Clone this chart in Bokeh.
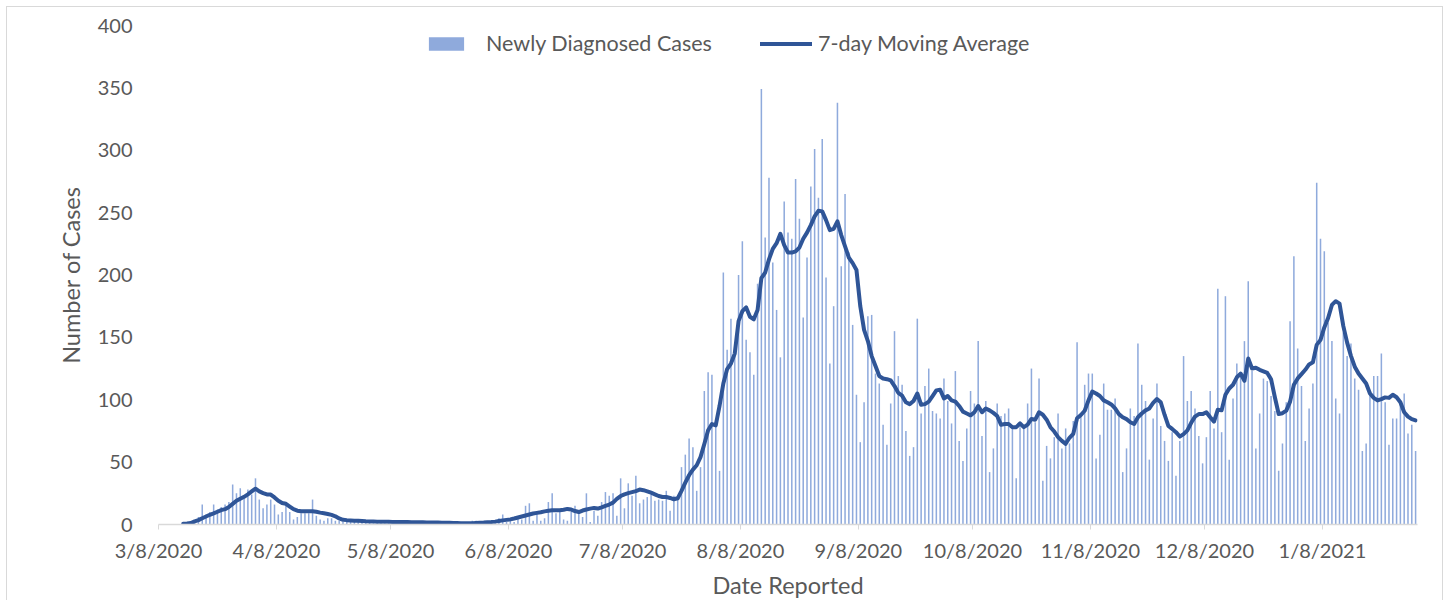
import pandas as pd
from bokeh.plotting import figure
from bokeh.models import Range1d, FixedTicker, Legend, LegendItem, ColumnDataSource
from bokeh.embed import file_html
from bokeh.resources import INLINE

# ---------------- data ----------------
start_date = "2020-03-14"

cases = [
    1, 1, 2, 3, 6, 16, 8, 10, 16, 12,
    14, 16, 18, 32, 25, 29, 22, 28, 24, 37,
    20, 13, 16, 20, 16, 8, 10, 18, 10, 4,
    6, 9, 9, 9, 20, 7, 4, 3, 5, 5,
    3, 3, 2, 3, 2, 2, 3, 2, 2, 3,
    1, 2, 2, 1, 3, 2, 2, 1, 2, 1,
    2, 1, 1, 2, 1, 1, 2, 1, 1, 2,
    1, 1, 1, 0, 1, 1, 3, 3, 1, 1,
    2, 1, 2, 5, 8, 2, 3, 2, 5, 4,
    15, 17, 3, 9, 3, 5, 18, 25, 9, 10,
    4, 3, 10, 15, 9, 6, 25, 2, 11, 7,
    18, 26, 23, 25, 7, 37, 13, 33, 23, 39,
    17, 20, 22, 24, 19, 20, 19, 27, 11, 23,
    20, 46, 56, 69, 62, 27, 46, 107, 122, 120,
    83, 43, 202, 140, 165, 146, 200, 227, 148, 138,
    120, 193, 349, 230, 278, 210, 172, 134, 259, 234,
    229, 277, 245, 166, 214, 271, 301, 262, 309, 198,
    129, 175, 338, 207, 265, 218, 160, 104, 66, 98,
    167, 168, 121, 113, 80, 64, 97, 155, 119, 112,
    75, 55, 62, 165, 89, 111, 125, 91, 89, 85,
    117, 99, 81, 123, 67, 51, 77, 107, 97, 147,
    71, 99, 42, 61, 97, 87, 89, 93, 77, 37,
    78, 78, 97, 125, 82, 117, 35, 63, 53, 70,
    89, 61, 77, 65, 83, 146, 89, 112, 121, 121,
    53, 72, 113, 92, 92, 101, 89, 42, 61, 93,
    87, 145, 112, 99, 52, 85, 113, 79, 67, 51,
    74, 39, 67, 135, 99, 107, 93, 71, 49, 70,
    107, 77, 189, 74, 183, 52, 101, 129, 122, 147,
    195, 123, 61, 89, 117, 115, 103, 91, 43, 65,
    98, 163, 215, 141, 111, 67, 93, 113, 274, 229,
    219, 162, 147, 101, 89, 154, 135, 145, 117, 108,
    59, 65, 105, 119, 119, 137, 98, 64, 85, 85,
    96, 105, 73, 80, 59,
]

moving_avg = [
    0.6, 0.8, 1.2, 2.5, 3.5, 5, 6.4, 7.8, 8.9, 10.2,
    11.5, 12.3, 14, 16.5, 19, 20.7, 22.2, 24.2, 26.5, 28.7,
    26.6, 25.2, 24.1, 24, 21.7, 19, 17.2, 16.6, 14.4, 12.3,
    11.1, 10.6, 10.6, 10.6, 10.6, 10.2, 9.5, 9, 8.4, 7.7,
    6.6, 4.9, 3.8, 3.5, 3.3, 3.1, 3.0, 2.8, 2.6, 2.5,
    2.4, 2.3, 2.3, 2.2, 2.2, 2.1, 2.1, 2.1, 2.0, 2.0,
    1.9, 1.9, 1.8, 1.8, 1.7, 1.7, 1.6, 1.6, 1.5, 1.5,
    1.4, 1.3, 1.2, 1.1, 1.0, 1.0, 1.1, 1.3, 1.5, 1.6,
    1.8, 2.0, 2.3, 2.8, 3.3, 3.7, 4.1, 4.8, 5.6, 6.4,
    7.2, 8.0, 8.8, 9.3, 9.8, 10.5, 11, 11.4, 11.4, 11.4,
    11.8, 12.5, 12.0, 10.8, 10.0, 11.2, 12.0, 12.7, 13.3, 12.8,
    13.8, 15.0, 16, 17.5, 20.5, 22.8, 24.2, 25.2, 26, 26.8,
    28, 27.5, 26.6, 25.5, 24.2, 22.8, 22, 22, 21.3, 20.2,
    21, 27, 33.5, 39.5, 44, 47.5, 54, 64.5, 75.5, 80.5,
    79.5, 95, 113, 124.6, 129, 137, 163, 171, 174, 166.5,
    164.5, 172, 197.5, 202, 212.5, 221, 225.5, 233, 224, 218,
    218, 219, 222, 229, 234, 240, 247, 251.5, 251, 244,
    236, 237, 243, 232, 223, 214, 209.5, 204, 175, 156,
    147, 135, 127, 119, 117, 116.5, 115.5, 111, 105.5, 103.3,
    98, 96.5, 99, 105, 96, 96.5, 98.5, 103, 107.5, 108,
    101, 103, 99.5, 98.5, 95, 90.5, 89, 87.5, 90, 95,
    90, 93, 91.5, 89.5, 87, 80, 80.5, 80.5, 78, 78,
    81, 78, 80, 84.6, 84, 90, 88, 84, 78, 74.5,
    70, 67, 64.7, 69.5, 72.7, 85.2, 87.8, 91.2, 99.5, 106.5,
    105, 103, 99.5, 98, 96.2, 93, 88.5, 86, 84.5, 82,
    80.6, 86, 89, 91.5, 93, 97.5, 100.6, 98, 88, 79,
    76.6, 74, 70.5, 72.5, 75.5, 81.5, 86.5, 88.5, 88.5, 90,
    86, 82.5, 92, 91.5, 104, 109, 112, 118, 121, 115.2,
    133, 125, 125.7, 124, 122.8, 121.5, 116.5, 102, 88.6, 89.2,
    91.3, 98.5, 112, 117.1, 120.5, 124, 128.3, 130, 144, 148,
    158, 165.5, 176, 179, 177, 159, 145.8, 135.2, 126.5, 121,
    117, 113, 105, 101.5, 99.5, 100.5, 101.9, 101.5, 104, 102,
    98, 90, 86.5, 84.5, 83.5,
]

tick_labels = ["3/8/2020", "4/8/2020", "5/8/2020", "6/8/2020", "7/8/2020",
               "8/8/2020", "9/8/2020", "10/8/2020", "11/8/2020", "12/8/2020",
               "1/8/2021"]
y_ticks = [0, 50, 100, 150, 200, 250, 300, 350, 400]

# ---------------- positions via dates ----------------
dates = pd.date_range(start_date, periods=len(cases), freq="D")
tick_dates = pd.to_datetime(tick_labels, format="%m/%d/%Y")
origin = tick_dates[0]
day = [float(d) + 0.5 for d in (dates - origin).days]   # columns centred in their day slot
tick_pos = [int(d) for d in (tick_dates - origin).days]

src = ColumnDataSource(dict(day=day, cases=cases, ma=moving_avg))

FONT = "Lato"
GREY = "#595959"

p = figure(width=1437, height=594, output_backend="svg", toolbar_location=None,
           x_range=Range1d(0, day[-1] + 0.5), y_range=Range1d(y_ticks[0], y_ticks[-1]),
           min_border_left=151, min_border_right=27, min_border_top=18, min_border_bottom=75)
p.styles = {"border-left": "1px solid #D9D9D9", "border-top": "1px solid #D9D9D9",
            "border-right": "1px solid #D9D9D9",
            "margin-left": "6px", "margin-top": "6px"}

bars = p.vbar(x="day", top="cases", bottom=0, width=0.4, source=src,
              fill_color="#8FAADC", line_color=None)
line = p.line(x="day", y="ma", source=src, line_color="#2F5597", line_width=4,
              line_join="round", line_cap="round")

p.xgrid.visible = False
p.ygrid.visible = False
p.outline_line_color = None
p.background_fill_color = "white"
p.border_fill_color = "white"

xa = p.xaxis[0]
xa.ticker = FixedTicker(ticks=tick_pos)
xa.major_label_overrides = {pos: lab for pos, lab in zip(tick_pos, tick_labels)}
xa.axis_line_color = "#D9D9D9"
xa.axis_line_width = 1.5
xa.major_tick_line_color = "#D9D9D9"
xa.major_tick_out = 5
xa.major_tick_in = 0
xa.minor_tick_line_color = None
xa.major_label_text_font = FONT
xa.major_label_text_font_size = "20px"
xa.major_label_text_color = GREY
xa.major_label_standoff = 8
xa.axis_label = "Date Reported"
xa.axis_label_text_font = FONT
xa.axis_label_text_font_size = "23.5px"
xa.axis_label_text_font_style = "normal"
xa.axis_label_text_color = GREY
xa.axis_label_standoff = 6

ya = p.yaxis[0]
ya.ticker = FixedTicker(ticks=y_ticks)
ya.axis_line_color = None
ya.major_tick_line_color = None
ya.minor_tick_line_color = None
ya.major_label_text_font = FONT
ya.major_label_text_font_size = "20px"
ya.major_label_text_color = GREY
ya.major_label_standoff = 20
ya.axis_label = "Number of Cases"
ya.axis_label_text_font = FONT
ya.axis_label_text_font_size = "23.5px"
ya.axis_label_text_font_style = "normal"
ya.axis_label_text_color = GREY
ya.axis_label_standoff = 10

common = dict(orientation="horizontal", padding=0, margin=0, spacing=0,
              border_line_color=None, background_fill_alpha=0,
              label_text_font=FONT, label_text_font_size="21.5px",
              label_text_color=GREY, label_height=26)
leg1 = Legend(items=[LegendItem(label="Newly Diagnosed Cases", renderers=[bars])],
              location=(266, 468), glyph_width=44, glyph_height=17, label_standoff=18,
              **common)
leg2 = Legend(items=[LegendItem(label="7-day Moving Average", renderers=[line])],
              location=(602, 468), glyph_width=52, glyph_height=13, label_standoff=6,
              **common)
p.add_layout(leg1, "center")
p.add_layout(leg2, "center")

open("out.html", "w").write(file_html(p, INLINE))
